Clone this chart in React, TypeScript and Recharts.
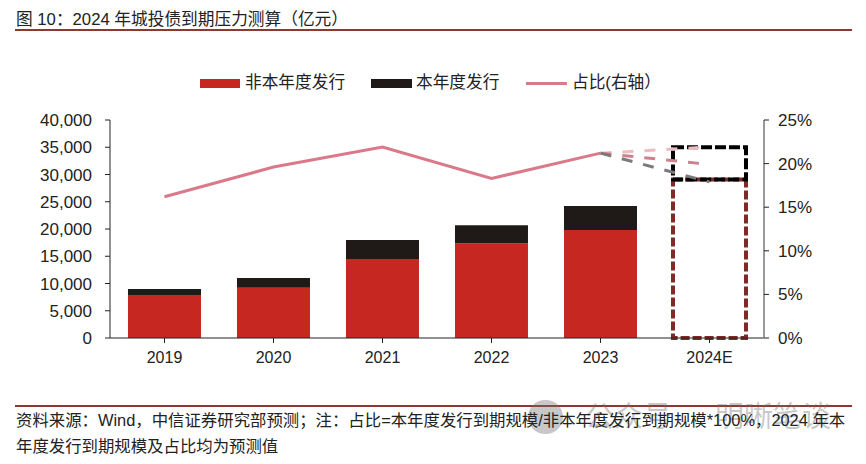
import React from "react";
import { ComposedChart, Bar, Line, XAxis, YAxis, Legend } from "recharts";

const categories = ["2019", "2020", "2021", "2022", "2023", "2024E"];
const nonCurrent = [7900, 9200, 14500, 17400, 19800, null];
const current = [1100, 1800, 3500, 3300, 4400, null];
const ratio = [16.2, 19.6, 21.9, 18.3, 21.2, null];
const nonCurrentEst = [null, null, null, null, null, 29100];
const currentEst = [null, null, null, null, null, 5900];
const scenarioHigh = [null, null, null, null, 21.2, 21.9];
const scenarioMid = [null, null, null, null, 21.2, 19.9];
const scenarioLow = [null, null, null, null, 21.2, 17.9];
const leftTicks = [0, 5000, 10000, 15000, 20000, 25000, 30000, 35000, 40000];
const rightTicks = [0, 5, 10, 15, 20, 25];

const rows = categories.map((c, i) => ({
  c,
  nonCurrent: nonCurrent[i],
  current: current[i],
  ratio: ratio[i],
  nonCurrentEst: nonCurrentEst[i],
  currentEst: currentEst[i],
  scenarioHigh: scenarioHigh[i],
  scenarioMid: scenarioMid[i],
  scenarioLow: scenarioLow[i],
}));

const FONT = '"Liberation Sans", "Noto Sans CJK SC", sans-serif';
const RED = "#c62720";
const DARK = "#1f1a17";
const PINK = "#d9798a";
const RULE = "#8a3a30";
const MARK = "rgba(110,110,110,0.38)";

const LegendBox = () => (
  <div style={{ position: "relative", height: 22, fontFamily: FONT, fontSize: 16.7, lineHeight: "22px", color: "#222", whiteSpace: "nowrap" }}>
    <span style={{ position: "absolute", left: 200, top: 7, width: 40, height: 9, background: RED }} />
    <span style={{ position: "absolute", left: 245, top: 0 }}>非本年度发行</span>
    <span style={{ position: "absolute", left: 371, top: 7, width: 41, height: 9, background: DARK }} />
    <span style={{ position: "absolute", left: 416, top: 0 }}>本年度发行</span>
    <span style={{ position: "absolute", left: 526, top: 10, width: 41, height: 3, background: PINK }} />
    <span style={{ position: "absolute", left: 572, top: 0 }}>占比(右轴）</span>
  </div>
);

export default function App() {
  return (
    <div style={{ position: "absolute", left: 0, top: 0, width: 866, height: 464, background: "#fff", overflow: "hidden", fontFamily: FONT, color: "#222" }}>
      <div style={{ position: "absolute", left: 16, top: 9, fontSize: 16.7, lineHeight: "21px", whiteSpace: "nowrap" }}>图 10：2024 年城投债到期压力测算（亿元）</div>
      <div style={{ position: "absolute", left: 15, top: 29, width: 837, height: 2, background: RULE }} />
      <ComposedChart
        width={866}
        height={400}
        data={rows}
        margin={{ top: 98, right: 0, bottom: 32, left: 0 }}
        barCategoryGap="16.5%"
        style={{ position: "absolute", left: 0, top: 0 }}
      >
        <XAxis
          dataKey="c"
          height={30}
          interval={0}
          tick={{ fontSize: 16, fill: "#222", fontFamily: FONT }}
          tickLine={{ stroke: "#222" }}
          axisLine={{ stroke: "#222" }}
          tickSize={5}
          tickMargin={9}
        />
        <YAxis
          yAxisId="l"
          width={110}
          domain={[0, 40000]}
          ticks={leftTicks}
          interval={0}
          tickFormatter={(v: number) => v.toLocaleString("en-US")}
          tick={{ fontSize: 17, fill: "#222", fontFamily: FONT }}
          tickLine={{ stroke: "#222" }}
          axisLine={{ stroke: "#222" }}
          tickSize={5}
          tickMargin={13}
        />
        <YAxis
          yAxisId="r"
          orientation="right"
          width={102}
          domain={[0, 25]}
          ticks={rightTicks}
          interval={0}
          tickFormatter={(v: number) => `${v}%`}
          tick={{ fontSize: 17, fill: "#222", fontFamily: FONT }}
          tickLine={{ stroke: "#222" }}
          axisLine={{ stroke: "#999", strokeWidth: 2 }}
          tickSize={5}
          tickMargin={9}
        />
        <Legend verticalAlign="top" align="left" wrapperStyle={{ left: 0, top: 72, width: 866 }} content={<LegendBox />} />
        <Bar yAxisId="l" dataKey="nonCurrent" stackId="a" fill={RED} isAnimationActive={false} />
        <Bar yAxisId="l" dataKey="current" stackId="a" fill={DARK} isAnimationActive={false} />
        <Bar yAxisId="l" dataKey="nonCurrentEst" stackId="a" fill="none" stroke="#7f2a26" strokeWidth={4} strokeDasharray="9 3" isAnimationActive={false} />
        <Bar yAxisId="l" dataKey="currentEst" stackId="a" fill="none" stroke="#000" strokeWidth={4} strokeDasharray="11 3" isAnimationActive={false} />
        <Line yAxisId="r" dataKey="ratio" stroke={PINK} strokeWidth={3} dot={false} isAnimationActive={false} />
        <Line yAxisId="r" dataKey="scenarioHigh" stroke="#ecbcc0" strokeWidth={3} strokeDasharray="11 11" dot={false} isAnimationActive={false} />
        <Line yAxisId="r" dataKey="scenarioMid" stroke="#d27f8c" strokeWidth={3} strokeDasharray="11 11" dot={false} isAnimationActive={false} />
        <Line yAxisId="r" dataKey="scenarioLow" stroke="#7b7b7b" strokeWidth={3} strokeDasharray="11 11" dot={false} isAnimationActive={false} />
      </ComposedChart>
      <div style={{ position: "absolute", left: 15, top: 405, width: 837, height: 2, background: RULE }} />
      <div style={{ position: "absolute", left: 528, top: 400, width: 35, height: 34, borderRadius: 17, background: MARK }} />
      <div style={{ position: "absolute", left: 585, top: 399, fontSize: 29, lineHeight: "36px", color: MARK, whiteSpace: "nowrap" }}>公众号</div>
      <div style={{ position: "absolute", left: 715, top: 399, fontSize: 29, lineHeight: "36px", color: MARK, whiteSpace: "nowrap" }}>明晰笔谈</div>
      <div style={{ position: "absolute", left: 16, top: 408, width: 838, fontSize: 16.4, lineHeight: "25.5px" }}>
        资料来源：Wind，中信证券研究部预测；注：占比=本年度发行到期规模/非本年度发行到期规模*100%，2024 年本年度发行到期规模及占比均为预测值
      </div>
    </div>
  );
}
